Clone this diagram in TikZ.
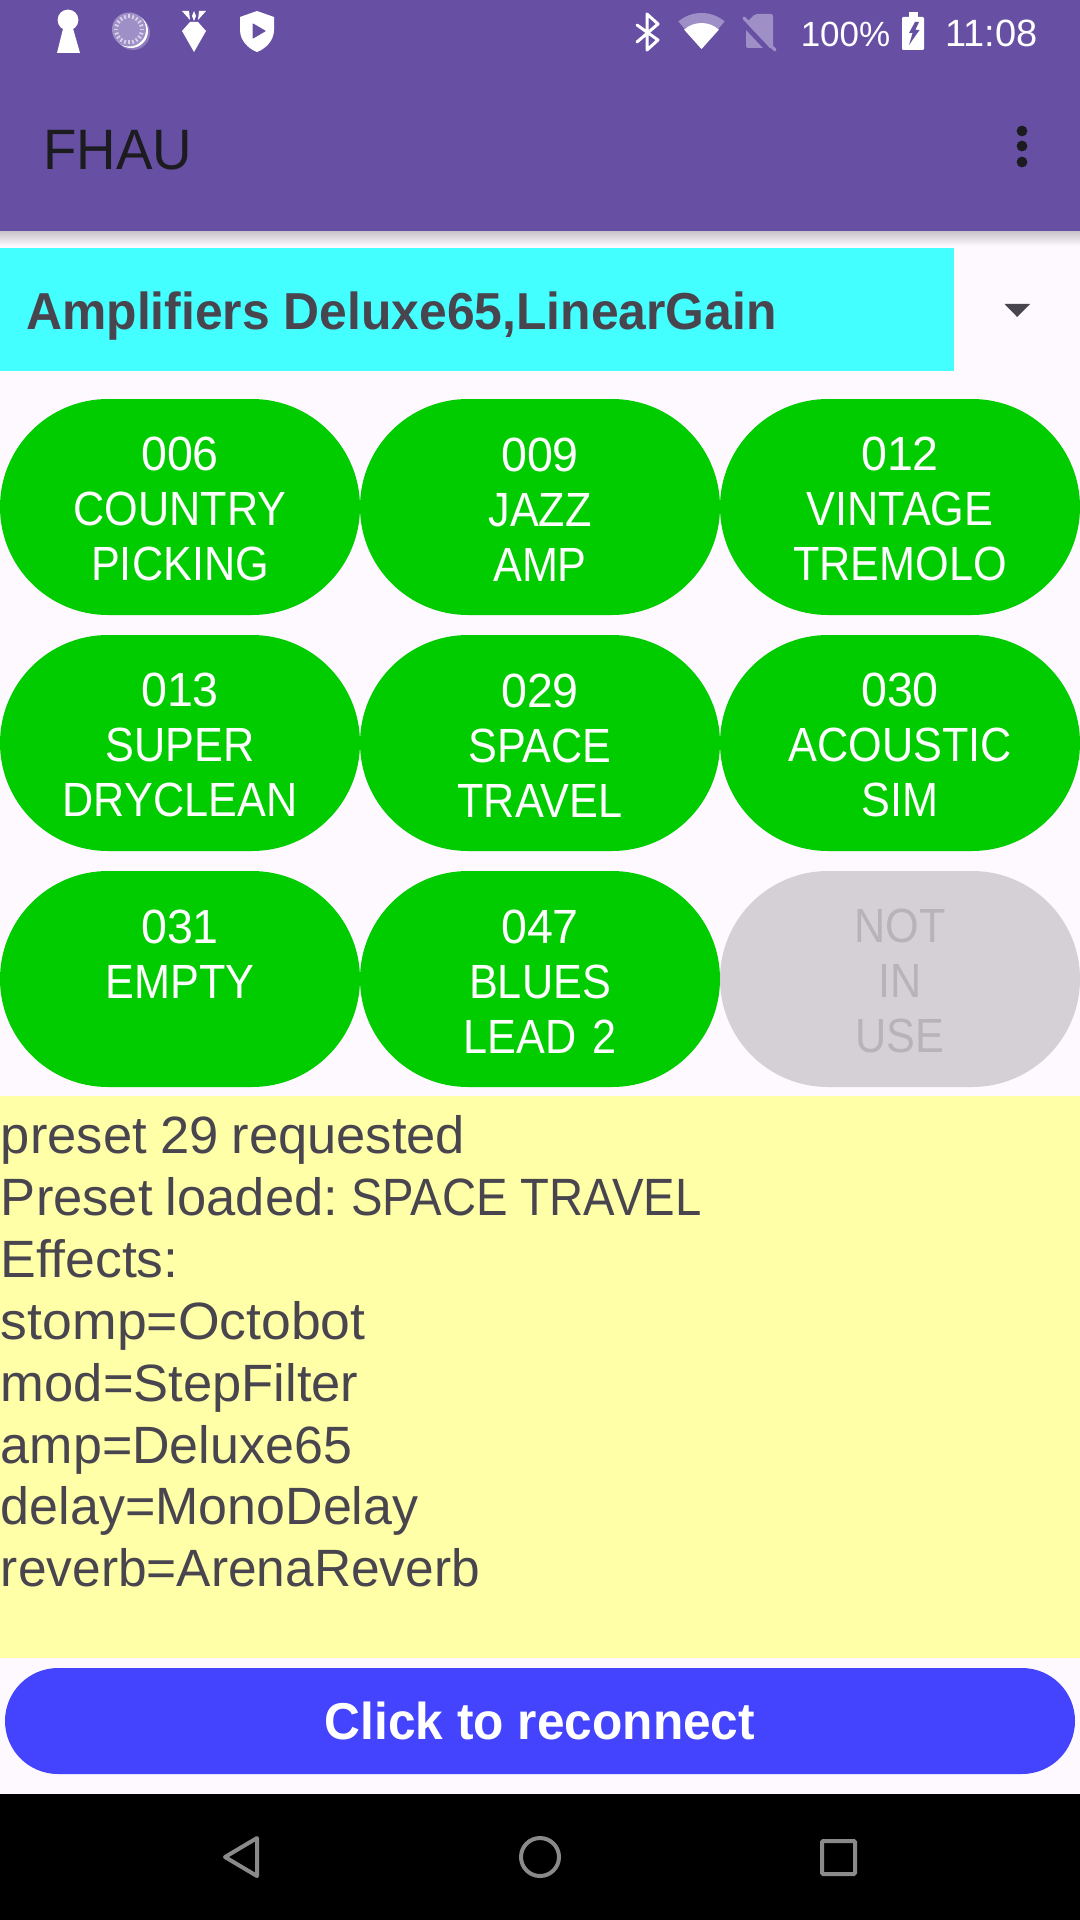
\documentclass[tikz,border=0pt]{standalone}
\usepackage{fontspec}
\setmainfont{Liberation Sans}
\newfontfamily\capsfam{Liberation Sans}[FakeStretch=0.9]
\newfontfamily\digfam{Liberation Sans}[FakeStretch=0.97]
\newfontfamily\medfam{Liberation Sans}[FakeStretch=0.96]
\newfontfamily\wideL{Liberation Sans}[FakeStretch=1.02]
\newfontfamily\midL{Liberation Sans}[FakeStretch=0.99]
\newfontfamily\narL{Liberation Sans}[FakeStretch=0.98]
\newfontfamily\boldfam{Liberation Sans Bold}[FakeStretch=0.958]
\newcommand{\dg}[1]{{\digfam #1}}
\definecolor{appbar}{HTML}{6750A4}
\definecolor{pagebg}{HTML}{FEF9FF}
\definecolor{cyanbg}{HTML}{44FFFF}
\definecolor{yellowbg}{HTML}{FFFFA8}
\definecolor{greenbtn}{HTML}{00CC00}
\definecolor{graybtn}{HTML}{D5D0D5}
\definecolor{graytxt}{HTML}{B8B3B9}
\definecolor{bluebtn}{HTML}{4444FF}
\definecolor{bodytxt}{HTML}{49454F}
\definecolor{darktxt}{HTML}{1C1B1F}
\definecolor{lav}{HTML}{9F8FC7}
\definecolor{navgray}{HTML}{8A8A8A}
\tikzset{
  pad/.style={minimum width=180pt,minimum height=108pt,inner sep=0pt,outer sep=0pt,rounded corners=54pt,
    text width=180pt,align=center,font=\capsfam\fontsize{24}{27.5}\selectfont,
    execute at begin node={\rule{0pt}{19.2pt}}},
  onbtn/.style={pad,fill=greenbtn,text=white},
  offbtn/.style={pad,fill=graybtn,text=graytxt},
  status/.style={inner sep=0pt,outer sep=0pt,text=white,anchor=base,font=\fontsize{17.5}{20}\selectfont},
}
\begin{document}
\begin{tikzpicture}[x=0.5pt,y=-0.5pt]
\useasboundingbox (0,0) rectangle (1080,1920);
\fill[pagebg] (0,0) rectangle (1080,1920);
% app bar
\fill[top color=black!22!pagebg,bottom color=pagebg] (0,231) rectangle (1080,246);
\fill[appbar] (0,0) rectangle (1080,231);
\node[inner sep=0pt,anchor=base west,text=darktxt,font=\medfam\fontsize{28.5}{32}\selectfont] (title) at (43,170) {FHAU};
\foreach \yy in {131,146,162} \fill[darktxt] (1022,\yy) circle[radius=2.7pt];
% status icons left
\fill[white] (68,20) circle[radius=5.2pt];
\fill[white] (64,25) -- (72,25) -- (80,53) -- (57,53) -- cycle;
\fill[lav!70!appbar] (133,33) circle[radius=8.5pt];
\fill[white] (131,31) circle[radius=8.5pt];
\fill[lav] (129,29.5) circle[radius=8.5pt];
\foreach \a in {0,18,...,342} \draw[white!60!lav,line width=0.9pt] (129,29.5) ++(\a:5.5pt) -- ++(\a:2pt);
\fill[white] (182,31) -- (190,22) -- (198,22) -- (206,31) -- (194,52) -- cycle;
\fill[white] (182,11) -- (189,11) -- (190,20) -- cycle;
\fill[white] (194,11) -- (196,16) -- (194,21) -- (192,16) -- cycle;
\fill[white] (206,11) -- (199,11) -- (198,20) -- cycle;
\fill[white] (257,11) -- (274,17) -- (274,30) .. controls (274,41) and (265,49) .. (257,52)
  .. controls (249,49) and (240,41) .. (240,30) -- (240,17) -- cycle;
\fill[appbar,draw=appbar,line width=0.5pt,line join=round] (253,24) -- (265,31) -- (253,38) -- cycle;
% status icons right
\draw[white,line width=1.5pt,line join=round,line cap=round] (637,25) -- (658,40) -- (647,50) -- (647,14) -- (658,24) -- (637,42);
\fill[lav] (701.5,49) -- +(50:18pt) arc[start angle=50,end angle=130,radius=18pt] -- cycle;
\fill[white] (701.5,49) -- +(48:13pt) arc[start angle=48,end angle=132,radius=13pt] -- cycle;
\fill[lav,rounded corners=1pt] (755,14) -- (773,14) -- (773,48) -- (746,48) -- (746,23) -- cycle;
\draw[appbar,line width=2.4pt] (741,21) -- (772,54);
\draw[lav,line width=1.6pt,line cap=round] (744,18) -- (775,50);
\node[status] (pct) at (845.5,46.5) {100\%};
\fill[white,rounded corners=0.6pt] (902,17) rectangle (924,50);
\fill[white] (909,12) rectangle (918,18);
\fill[appbar] (915,22) -- (909,33) -- (912.6,33) -- (909,45) -- (919.5,30) -- (915.3,30) -- (919,22) -- cycle;
\node[status,font=\fontsize{19}{20}\selectfont] (clock) at (991.5,46.5) {11:08};
% spinner
\fill[cyanbg] (0,248) rectangle (954,371);
\node[inner sep=0pt,anchor=base west,text=bodytxt,font=\boldfam\fontsize{26}{30}\selectfont] (spin) at (26,329) {Amplifiers Deluxe65,LinearGain};
\fill[bodytxt] (1004.5,304) -- (1030,304) -- (1017.2,317) -- cycle;
% preset buttons
\node[onbtn] (b1) at (180,507) {\dg{006}\\COUNTRY\\PICKING};
\node[onbtn] (b2) at (540,507) {\dg{009}\\JAZZ\\AMP};
\node[onbtn] (b3) at (900,507) {\dg{012}\\VINTAGE\\TREMOLO};
\node[onbtn] (b4) at (180,743) {\dg{013}\\SUPER\\DRYCLEAN};
\node[onbtn] (b5) at (540,743) {\dg{029}\\SPACE\\TRAVEL};
\node[onbtn] (b6) at (900,743) {\dg{030}\\ACOUSTIC\\SIM};
\node[onbtn] (b7) at (180,979) {\dg{031}\\EMPTY\\\phantom{EMPTY}};
\node[onbtn] (b8) at (540,979) {\dg{047}\\BLUES\\LEAD 2};
\node[offbtn] (b9) at (900,979) {NOT\\IN\\USE};
% log
\fill[yellowbg] (0,1096) rectangle (1080,1658);
\node[inner sep=0pt,outer sep=0pt,anchor=north west,text width=500pt,align=left,text=bodytxt,
  font=\fontsize{26.25}{30.95}\selectfont,execute at begin node={\frenchspacing\spaceskip=0.25em\relax}] (log) at (1,1115.5)
  {preset 29 requested\\Preset loaded: {\capsfam SPACE TRAVEL}\\{\wideL Effects:}\\{\wideL stomp=Octobot}\\mod=StepFilter\\{\midL amp=Deluxe65}\\{\midL delay=MonoDelay}\\{\narL reverb=ArenaReverb}};
% reconnect
\node[fill=bluebtn,text=white,inner sep=0pt,outer sep=0pt,minimum width=535pt,minimum height=53pt,rounded corners=26.5pt,
  font=\boldfam\fontsize{25.9}{30}\selectfont] (reconnect) at (540,1721) {Click to reconnect};
% nav bar
\fill[black] (0,1794) rectangle (1080,1920);
\draw[navgray,line width=2pt,line join=round] (257,1838) -- (257,1876) -- (225,1857) -- cycle;
\draw[navgray,line width=2pt] (540,1857) circle[radius=9.5pt];
\draw[navgray,line width=2pt,rounded corners=0.6pt] (822,1841) rectangle (855,1874);
\end{tikzpicture}
\end{document}
